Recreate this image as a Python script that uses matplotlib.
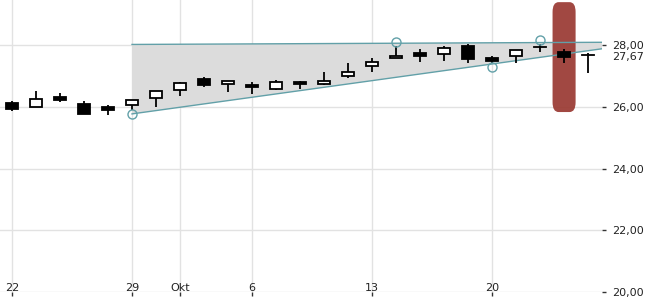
import numpy as np
import matplotlib
matplotlib.use("Agg")
import matplotlib.pyplot as plt
from matplotlib.patches import Rectangle, FancyBboxPatch, Polygon
from matplotlib.transforms import offset_copy

# daily candles, 22 Sep - 24 Oct (trading days only)
opens = [26.11, 26.00, 26.31, 26.09, 25.99, 26.05, 26.27, 26.56, 26.89, 26.73,
         26.70, 26.58, 26.81, 26.73, 26.99, 27.31, 27.57, 27.73, 27.70, 27.97,
         27.58, 27.63, 27.95, 27.77, 27.67]
highs = [26.18, 26.51, 26.45, 26.18, 26.06, 26.22, 26.50, 26.81, 26.96, 26.83,
         26.81, 26.87, 26.83, 27.13, 27.42, 27.58, 27.97, 27.86, 27.98, 28.02,
         27.65, 27.83, 28.02, 27.86, 27.75]
lows = [25.85, 25.98, 26.16, 25.77, 25.74, 25.89, 26.00, 26.36, 26.65, 26.49,
        26.42, 26.54, 26.57, 26.70, 26.94, 27.13, 27.57, 27.44, 27.48, 27.41,
        27.41, 27.43, 27.78, 27.41, 27.10]
closes = [25.92, 26.24, 26.22, 25.77, 25.90, 26.22, 26.50, 26.76, 26.71, 26.83,
          26.65, 26.79, 26.75, 26.83, 27.12, 27.44, 27.65, 27.64, 27.89, 27.56,
          27.49, 27.83, 27.95, 27.62, 27.67]

tick_pos = [0, 5, 7, 10, 15, 20]
tick_labels = ["22", "29", "Okt", "6", "13", "20"]

# trend channel end points (index, value)
chan_x = [5, 24.58]
chan_upper = [28.02, 28.09]
chan_lower = [25.77, 27.88]

# pivot markers: (index, 'high'/'low')
pivots = [(5, "low"), (16, "high"), (20, "low"), (22, "high")]

highlight_idx = 23
highlight_range = (25.83, 29.39)
last_price = 27.67

teal = "#62a0a8"
grid_c = "#e2e2e2"

fig = plt.figure(figsize=(6.5, 3), dpi=100)
ax = fig.add_axes([0, 8 / 300, 602 / 650, 292 / 300])
ax.set_xlim(-0.5, 24.58)
ax.set_ylim(20, 29.46)

for s in ax.spines.values():
    s.set_visible(False)

for y in range(20, 29, 2):
    ax.axhline(y, color=grid_c, lw=1, zorder=0)
for x in tick_pos:
    ax.axvline(x, color=grid_c, lw=1, zorder=0)

# channel
poly = Polygon([[chan_x[0], chan_lower[0]], [chan_x[1], chan_lower[1]],
                [chan_x[1], chan_upper[1]], [chan_x[0], chan_upper[0]]],
               closed=True, facecolor="#dcdcdc", edgecolor="none", zorder=1)
ax.add_patch(poly)

# highlight of current day
rp = 0.25
hl = FancyBboxPatch((highlight_idx - 0.48 + rp, highlight_range[0] + rp * 1.28),
                    0.96 - 2 * rp, highlight_range[1] - highlight_range[0] - 2 * rp * 1.28,
                    boxstyle=f"round,pad={rp}", mutation_aspect=1.28,
                    facecolor="#9a3a33", edgecolor="none", alpha=0.93, zorder=2)
ax.add_patch(hl)

ax.plot(chan_x, chan_upper, color=teal, lw=1, zorder=3)
ax.plot(chan_x, chan_lower, color=teal, lw=1, zorder=3)

# candles
w = 0.5
for i, (o, h, l, c) in enumerate(zip(opens, highs, lows, closes)):
    ax.plot([i, i], [l, h], color="black", lw=1.3, zorder=4, solid_capstyle="butt")
    if abs(c - o) < 0.005:
        ax.plot([i - w / 2, i + w / 2], [c, c], color="black", lw=1.3, zorder=5)
    else:
        face = "white" if c > o else "black"
        ax.add_patch(Rectangle((i - w / 2, min(o, c)), w, abs(c - o),
                               facecolor=face, edgecolor="black", lw=1.3, zorder=5))

# pivot circles, tangent to the wick end
for i, kind in pivots:
    if kind == "high":
        tr = offset_copy(ax.transData, fig=fig, y=4, units="dots")
        y = highs[i]
    else:
        tr = offset_copy(ax.transData, fig=fig, y=-4, units="dots")
        y = lows[i]
    ax.plot([i], [y], marker="o", ms=6.5, mfc="none", mec=teal, mew=1,
            transform=tr, zorder=6)

# x ticks (labels inside the plot)
ax.set_xticks(tick_pos)
ax.set_xticklabels([])
ax.tick_params(axis="x", direction="out", length=3, width=1, color="#333333")
for x, lab in zip(tick_pos, tick_labels):
    ax.annotate(lab, (x, 20), xytext=(0, 1), textcoords="offset points",
                ha="center", va="baseline", fontsize=8, color="#222222")

# y ticks on right
ax.yaxis.tick_right()
ax.set_yticks([20, 22, 24, 26, 28])
ax.set_yticklabels([f"{v:.2f}".replace(".", ",") for v in [20, 22, 24, 26, 28]])
ax.tick_params(axis="y", direction="out", length=3, width=1, color="#333333",
               pad=4, labelsize=8, labelcolor="#222222")

ax.annotate(f"{last_price:.2f}".replace(".", ","), (1.0, last_price),
            xycoords=("axes fraction", "data"), xytext=(7.2, -1.5),
            textcoords="offset points", ha="left", va="center", fontsize=8,
            color="#222222", annotation_clip=False,
            bbox=dict(boxstyle="square,pad=0.05", fc="white", ec="none"))

fig.savefig("out.png", dpi=100)
